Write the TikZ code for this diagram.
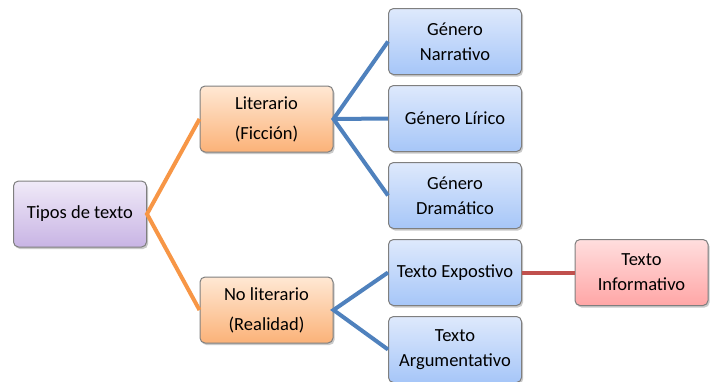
\documentclass[tikz,border=0pt]{standalone}
\usepackage{fontspec}
\setmainfont{Carlito}
\usetikzlibrary{shadows}
\definecolor{orline}{HTML}{F79646}
\definecolor{blline}{HTML}{4F81BD}
\definecolor{rdline}{HTML}{C0504D}
\definecolor{bordergray}{HTML}{7F7F7F}
\tikzset{
  box/.style={draw=bordergray, line width=1pt, rounded corners=5pt,
    minimum width=133pt, minimum height=66pt, inner sep=2pt, align=center,
    font=\fontsize{18.5}{25}\selectfont,
    drop shadow={shadow xshift=1.5pt, shadow yshift=-2pt, opacity=0.35, fill=black!60}},
  twoline/.style={font=\fontsize{18.5}{30}\selectfont},
  purplebox/.style={box, top color={rgb,255:red,240;green,234;blue,248}, bottom color={rgb,255:red,200;green,180;blue,228}},
  orangebox/.style={box, top color={rgb,255:red,255;green,232;blue,212}, bottom color={rgb,255:red,251;green,178;blue,120}},
  bluebox/.style={box, top color={rgb,255:red,222;green,233;blue,252}, bottom color={rgb,255:red,166;green,198;blue,248}},
  redbox/.style={box, top color={rgb,255:red,255;green,222;blue,222}, bottom color={rgb,255:red,255;green,166;blue,166}},
  conn/.style={line width=4pt},
}
\begin{document}
\begin{tikzpicture}[x=1pt,y=-1pt]
\useasboundingbox (0,0) rectangle (717,381);
\node[purplebox] (tipos) at (80,214) {Tipos de texto};
\node[orangebox, twoline] (lit) at (266.5,119) {Literario\\(Ficción)};
\node[orangebox, twoline] (nolit) at (266.5,310) {No literario\\(Realidad)};
\node[bluebox] (narr) at (455,41.5) {Género\\Narrativo};
\node[bluebox] (lir) at (455,118.5) {Género Lírico};
\node[bluebox] (dram) at (455,195.5) {Género\\Dramático};
\node[bluebox] (expo) at (455,272.5) {Texto Expostivo};
\node[bluebox] (arg) at (455,349.5) {Texto\\Argumentativo};
\node[redbox] (info) at (641.5,272.5) {Texto\\Informativo};
\draw[conn, orline] (lit.west) -- (tipos.east) -- (nolit.west);
\draw[conn, blline] (narr.west) -- (lit.east) -- (dram.west);
\draw[conn, blline] (lit.east) -- (lir.west);
\draw[conn, blline] (expo.west) -- (nolit.east) -- (arg.west);
\draw[conn, rdline] (expo.east) -- (info.west);
\end{tikzpicture}
\end{document}
